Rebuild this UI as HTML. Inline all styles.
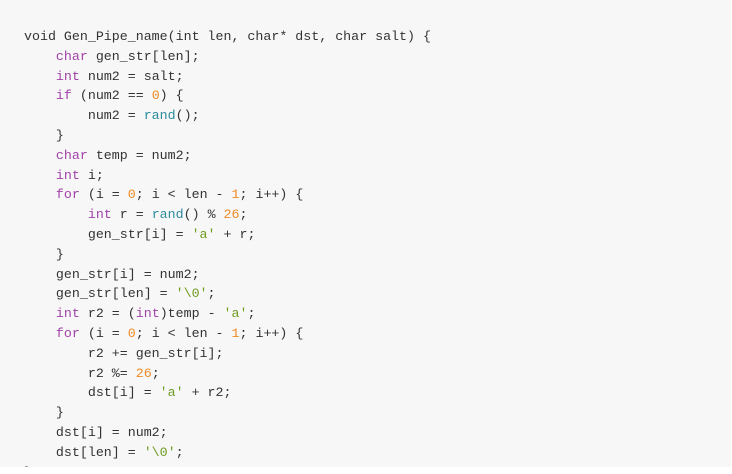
<!DOCTYPE html>
<html><head><style>
html,body{margin:0;padding:0;background:#fff;}
.box{position:absolute;left:0;top:0;width:731px;height:467px;background:#f7f7f7;overflow:hidden;}
pre{position:absolute;left:24px;top:27px;margin:0;font-family:"Liberation Mono",monospace;font-size:13.3px;line-height:19.8px;color:#333;}
.k{color:#a043a8;}
.n{color:#ee8a24;}
.s{color:#6e9b20;}
.f{color:#2c8c9c;}
</style></head><body>
<div class="box"><pre>void Gen_Pipe_name(int len, char* dst, char salt) {
    <span class="k">char</span> gen_str[len];
    <span class="k">int</span> num2 = salt;
    <span class="k">if</span> (num2 == <span class="n">0</span>) {
        num2 = <span class="f">rand</span>();
    }
    <span class="k">char</span> temp = num2;
    <span class="k">int</span> i;
    <span class="k">for</span> (i = <span class="n">0</span>; i &lt; len - <span class="n">1</span>; i++) {
        <span class="k">int</span> r = <span class="f">rand</span>() % <span class="n">26</span>;
        gen_str[i] = <span class="s">'a'</span> + r;
    }
    gen_str[i] = num2;
    gen_str[len] = <span class="s">'\0'</span>;
    <span class="k">int</span> r2 = (<span class="k">int</span>)temp - <span class="s">'a'</span>;
    <span class="k">for</span> (i = <span class="n">0</span>; i &lt; len - <span class="n">1</span>; i++) {
        r2 += gen_str[i];
        r2 %= <span class="n">26</span>;
        dst[i] = <span class="s">'a'</span> + r2;
    }
    dst[i] = num2;
    dst[len] = <span class="s">'\0'</span>;
}</pre></div>
</body></html>
